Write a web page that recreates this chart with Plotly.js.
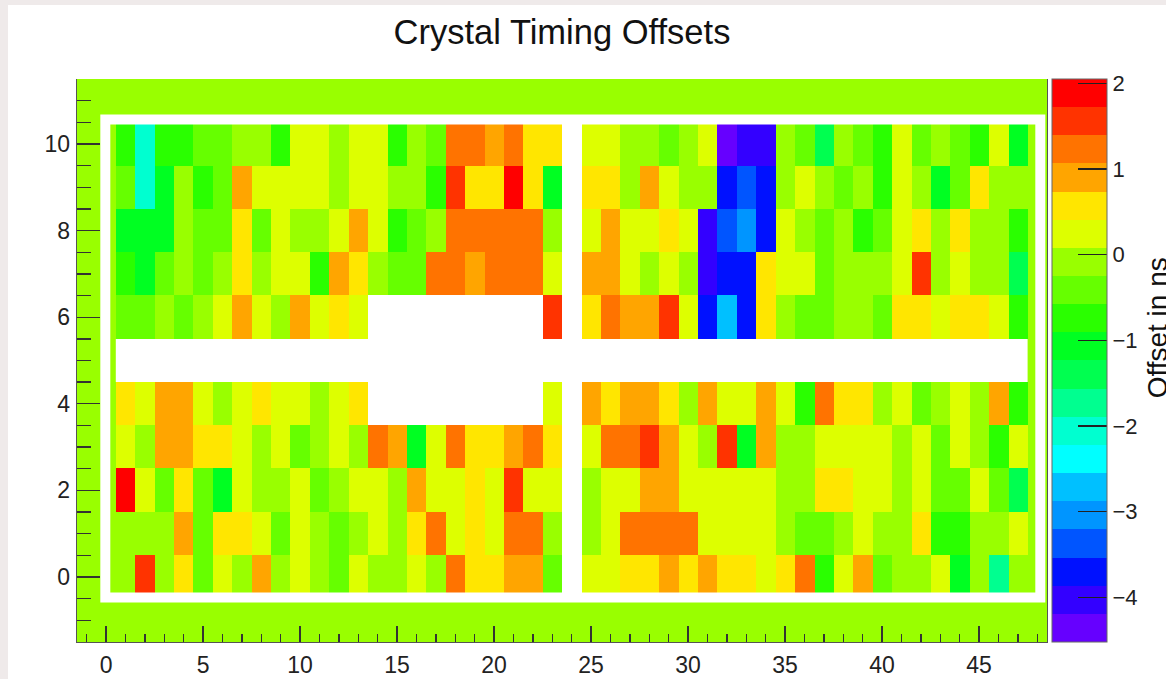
<!DOCTYPE html>
<html>
<head>
<meta charset="utf-8">
<script src="https://cdn.plot.ly/plotly-3.0.1.min.js"></script>
<style>
  html, body { margin: 0; padding: 0; background: #efeaea; overflow: hidden; }
  #plot { position: absolute; left: 8px; top: 5px; width: 1158px; height: 674px; background: #fff; }
</style>
</head>
<body>
<div id="plot"></div>
<script>
// Crystal timing offsets (ns), one array per crystal row (y = 0..10), columns x = 0..48.
// null marks crystals with no measurement.
const row0  = [-0.1, -0.1, 1.55, -0.1, 0.55, -0.4, 0.25, -0.1, 0.9, -0.1, 0.25, -0.1, -0.4, 0.25, -0.1, -0.1, 0.25, -0.1, 1.2, 0.55, 0.55, 0.9, 0.9, -0.4, null, 0.25, 0.25, 0.55, 0.55, 0.9, 0.55, 0.9, 0.55, 0.55, 0.25, 0.55, 1.2, -0.75, 0.25, 0.9, -0.4, -0.1, -0.1, 0.25, -1.05, -0.1, -1.7, -0.1, -0.1];
const row1  = [-0.1, -0.1, -0.1, -0.1, 0.9, -0.4, 0.55, 0.55, 0.25, -0.4, 0.25, -0.1, -0.4, -0.1, 0.25, -0.1, 0.55, 1.2, 0.25, 0.55, 0.25, 1.2, 1.2, -0.1, null, -0.1, 0.25, 1.2, 1.2, 1.2, 1.2, 0.25, 0.25, 0.25, 0.25, -0.1, -0.4, -0.4, -0.1, 0.25, -0.1, -0.1, 0.55, -0.75, -0.75, -0.1, -0.1, 0.25, -0.1];
const row2  = [-0.1, 1.9, 0.25, -0.4, 0.55, -0.4, -1.05, 0.25, -0.1, -0.1, 0.25, -0.4, -0.1, 0.25, 0.25, -0.1, 0.9, 0.25, 0.25, 0.55, 0.25, 1.55, 0.25, 0.25, null, -0.1, 0.25, 0.25, 0.9, 0.9, 0.25, 0.25, 0.25, 0.25, 0.25, -0.1, -0.1, 0.55, 0.55, 0.25, 0.25, -0.1, 0.25, -0.4, -0.4, 0.25, -0.4, -1.4, -0.1];
const row3  = [-0.1, 0.25, -0.1, 0.9, 0.9, 0.55, 0.55, 0.25, -0.1, 0.25, -0.4, -0.1, 0.25, -0.1, 1.2, 0.9, -1.05, 0.25, 1.2, 0.55, 0.55, 0.9, 1.2, 0.55, null, 0.25, 1.2, 1.2, 1.55, 0.9, 0.25, -0.1, 1.55, -1.05, 0.9, -0.1, -0.1, 0.25, 0.25, 0.25, 0.25, -0.1, 0.25, -0.4, 0.25, -0.1, -0.75, 0.25, -0.1];
const row4  = [-0.1, 0.55, 0.25, 0.9, 0.9, 0.25, -0.1, 0.25, 0.55, 0.25, 0.25, -0.1, 0.25, 0.55, null, null, null, null, null, null, null, null, null, 0.25, null, 0.9, 0.55, 0.9, 0.9, 0.55, -0.1, 0.9, 0.25, 0.25, 0.9, 0.25, -0.75, 1.2, 0.55, 0.55, -0.1, 0.25, -0.4, -0.1, 0.25, -0.1, 0.9, -0.75, -0.1];
const row5  = [null, null, null, null, null, null, null, null, null, null, null, null, null, null, null, null, null, null, null, null, null, null, null, null, null, null, null, null, null, null, null, null, null, null, null, null, null, null, null, null, null, null, null, null, null, null, null, null, null];
const row6  = [-0.1, -0.4, -0.4, -0.1, -0.4, -0.1, 0.25, 0.9, 0.25, -0.1, 0.9, 0.25, 0.55, 0.25, null, null, null, null, null, null, null, null, null, 1.55, null, 0.55, 1.2, 0.9, 0.9, 1.55, 0.25, -3.7, -2.7, -3.7, 0.55, -0.1, -0.4, -0.4, -0.1, -0.1, -0.4, 0.55, 0.55, 0.25, 0.55, 0.55, 0.25, -0.75, -0.1];
const row7  = [-0.1, -0.75, -1.05, -0.4, -0.1, -0.4, -0.1, 0.55, -0.1, 0.25, 0.25, -0.75, 0.9, 0.55, -0.1, -0.4, -0.4, 1.2, 1.2, 0.9, 1.2, 1.2, 1.2, 0.25, null, 0.9, 0.9, 0.25, -0.1, 0.25, -0.1, -4.0, -3.7, -3.7, 0.55, 0.25, 0.25, -0.4, -0.1, -0.1, -0.1, 0.25, 1.55, -0.1, 0.25, -0.1, -0.1, -1.4, -0.1];
const row8  = [-0.1, -1.05, -1.05, -1.05, -0.1, -0.4, -0.4, 0.55, -0.4, 0.25, -0.1, -0.1, 0.25, 0.9, 0.25, -0.75, -0.4, -0.1, 1.2, 1.2, 1.2, 1.2, 1.2, -0.1, null, 0.25, 0.9, 0.25, 0.25, 0.55, 0.25, -4.0, -3.35, -3.05, -3.7, 0.25, -0.1, -0.4, -0.1, -0.75, -0.4, 0.25, 0.55, -0.1, 0.55, -0.1, -0.1, -0.75, -0.1];
const row9  = [-0.1, -0.4, -2.05, -1.05, -0.1, -0.75, -0.4, 0.9, 0.25, 0.25, 0.25, 0.25, -0.1, 0.25, 0.25, -0.1, -0.1, -0.75, 1.55, 0.55, 0.55, 1.9, 0.55, -1.05, null, 0.55, 0.55, -0.1, 0.9, 0.25, -0.1, -0.1, -3.7, -3.35, -3.7, -0.1, 0.25, -0.1, -0.4, -0.1, -0.75, 0.25, -0.1, -1.05, -0.4, 0.55, -0.1, -0.1, -0.1];
const row10 = [-0.1, -0.75, -2.05, -0.75, -0.75, -0.4, -0.4, -0.1, -0.1, -0.75, 0.25, 0.25, -0.1, 0.25, 0.25, -0.75, -0.1, -0.4, 1.2, 1.2, 0.9, 1.2, 0.55, 0.55, null, 0.25, 0.25, -0.1, -0.1, -0.4, -0.1, 0.25, -4.35, -4.0, -4.0, -0.1, -0.4, -1.4, -0.1, -0.4, -0.75, 0.25, -0.4, -0.1, -0.4, -0.75, 0.25, -1.05, -0.1];

const rows = [row0, row1, row2, row3, row4, row5, row6, row7, row8, row9, row10];
const crystalX = row0.map((_, i) => i);
const crystalY = rows.map((_, j) => j);

// 20-step rainbow palette, violet (low) to red (high)
const paletteColors = [
  '#6600ff', '#3300ff', '#0011ff', '#0055ff', '#0095ff',
  '#00c0ff', '#00ffff', '#00ffd0', '#00ff90', '#00ff50',
  '#00ff22', '#2aff00', '#66ff00', '#99ff00', '#ddff00',
  '#ffe600', '#ffa500', '#ff7300', '#ff3300', '#ff0000'
];
const zMin = -4.52, zMax = 2.05;
const colorTicks = [-4, -3, -2, -1, 0, 1, 2];

const colorscale = [];
paletteColors.forEach((c, k) => {
  colorscale.push([k / paletteColors.length, c]);
  colorscale.push([(k + 1) / paletteColors.length, c]);
});

const heat = {
  type: 'heatmap',
  x: crystalX,
  y: crystalY,
  z: rows,
  zmin: zMin,
  zmax: zMax,
  colorscale: colorscale,
  zsmooth: false,
  hoverongaps: false,
  colorbar: {
    x: 1.005, xanchor: 'left', xpad: 0,
    y: 0.5, yanchor: 'middle', ypad: 0,
    len: 1.0, lenmode: 'fraction',
    thickness: 55, thicknessmode: 'pixels',
    outlinewidth: 1, outlinecolor: '#666',
    tickmode: 'array', tickvals: colorTicks,
    ticks: 'inside', ticklen: 29, tickwidth: 1.3, tickcolor: '#222',
    tickfont: { family: 'Liberation Sans, Arial, sans-serif', size: 22, color: '#222' }
  }
};

const axisFont = { family: 'Liberation Sans, Arial, sans-serif', size: 23, color: '#222' };

const layout = {
  width: 1158,
  height: 674,
  margin: { l: 69, r: 119, t: 74, b: 37, autoexpand: false },
  paper_bgcolor: '#ffffff',
  plot_bgcolor: '#99ff00',
  showlegend: false,
  title: {
    text: 'Crystal Timing Offsets',
    x: 0.5, xref: 'paper', xanchor: 'center',
    y: 1 - 27 / 674, yref: 'container', yanchor: 'middle',
    font: { family: 'Liberation Sans, Arial, sans-serif', size: 34.5, color: '#111' }
  },
  xaxis: {
    range: [-1.5, 48.5],
    tick0: 0, dtick: 5,
    ticks: 'inside', ticklen: 16, tickwidth: 1.3, tickcolor: '#333',
    minor: { dtick: 1, ticks: 'inside', ticklen: 8, tickwidth: 1.3, tickcolor: '#333' },
    showgrid: false, zeroline: false,
    showline: true, linecolor: '#555', linewidth: 1.3,
    tickfont: axisFont,
    ticklabelstandoff: 2,
    fixedrange: true
  },
  yaxis: {
    range: [-1.5, 11.5],
    tick0: 0, dtick: 2,
    ticks: 'inside', ticklen: 23, tickwidth: 1.3, tickcolor: '#333',
    minor: { dtick: 0.5, ticks: 'inside', ticklen: 14, tickwidth: 1.3, tickcolor: '#333' },
    showgrid: false, zeroline: false,
    showline: true, mirror: true, linecolor: '#555', linewidth: 1.3,
    tickfont: axisFont,
    ticklabelstandoff: 1,
    fixedrange: true
  },
  shapes: [
    // white backing behind the crystal grid, so empty crystals show white
    { type: 'rect', xref: 'x', yref: 'y', x0: 0.5, x1: 47.5, y0: -0.5, y1: 10.5,
      fillcolor: '#ffffff', line: { width: 0 }, layer: 'below' },
    // white outline around the detector face
    { type: 'rect', xref: 'x', yref: 'y', x0: -0.04, x1: 48.155, y0: -0.47, y1: 10.564,
      fillcolor: 'rgba(0,0,0,0)', line: { color: '#ffffff', width: 10 }, layer: 'above' }
  ],
  annotations: [
    {
      text: 'Offset in ns',
      xref: 'paper', yref: 'paper',
      x: 1.096, xanchor: 'left',
      y: 0.687, yanchor: 'top',
      textangle: -90,
      showarrow: false,
      font: { family: 'Liberation Sans, Arial, sans-serif', size: 28, color: '#111' }
    }
  ]
};

Plotly.newPlot('plot', [heat], layout, { displayModeBar: false, staticPlot: true });
</script>
</body>
</html>
